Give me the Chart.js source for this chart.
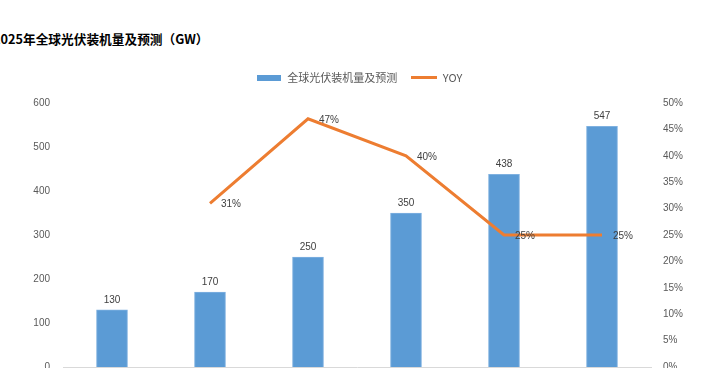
<!DOCTYPE html>
<html>
<head>
<meta charset="utf-8">
<script src="https://cdn.jsdelivr.net/npm/chart.js@4"></script>
<style>
  html, body { margin: 0; padding: 0; background: #fff; overflow: hidden; width: 706px; height: 368px; }
  #title { position: absolute; left: -7px; top: 29px; font: bold 12.7px "Noto Sans CJK SC", sans-serif; color: #000; white-space: nowrap; }
  #wrap { position: absolute; left: 0; top: 0; width: 706px; height: 400px; }
</style>
</head>
<body>
<div id="title">2025年全球光伏装机量及预测（GW）</div>
<div id="wrap"><canvas id="myChart" width="706" height="400"></canvas></div>
<script>
// 年份 (x축 라벨은 화면 아래로 잘려 있음)
const years = ['2020', '2021', '2022', '2023E', '2024E', '2025E'];
// 装机量 GW
const installed = [130, 170, 250, 350, 438, 547];
// 同比增速
const yoy = [null, 0.31, 0.47, 0.40, 0.25, 0.25];

const leftTicks = [0, 600, 100];   // min, max, step
const rightTicks = [0, 0.5, 0.05];

const BLUE = '#5B9BD5';
const ORANGE = '#ED7D31';

// 범례 아이콘
function makeIcon(w, h, color) {
  const c = document.createElement('canvas');
  c.width = w;
  c.height = h;
  const g = c.getContext('2d');
  g.fillStyle = color;
  g.fillRect(0, 0, w, h);
  return c;
}
const barIcon = makeIcon(24, 6, BLUE);
const lineIcon = makeIcon(26, 3, ORANGE);

// 범례 아래 여백 추가
const legendGap = {
  id: 'legendGap',
  afterInit(chart) {
    const lg = chart.legend;
    const fit = lg.fit.bind(lg);
    lg.fit = function () {
      fit();
      this.height += 10;
    };
  }
};

// 값 라벨 그리기
const valueLabels = {
  id: 'valueLabels',
  afterDatasetsDraw(chart) {
    const ctx = chart.ctx;
    ctx.save();
    ctx.font = '10px "Liberation Sans", sans-serif';
    ctx.fillStyle = '#404040';
    chart.getDatasetMeta(0).data.forEach((el, i) => {
      ctx.textAlign = 'center';
      ctx.textBaseline = 'bottom';
      ctx.fillText(installed[i], el.x, el.y - 5);
    });
    chart.getDatasetMeta(1).data.forEach((el, i) => {
      if (yoy[i] == null) return;
      ctx.textAlign = 'left';
      ctx.textBaseline = 'middle';
      ctx.fillText(Math.round(yoy[i] * 100) + '%', el.x + 11, el.y + 1);
    });
    ctx.restore();
  }
};

const data = {
  labels: years,
  datasets: [
    {
      type: 'bar',
      label: '全球光伏装机量及预测',
      data: installed,
      backgroundColor: BLUE,
      borderColor: '#7FB1E0',
      borderWidth: 1,
      barThickness: 31,
      yAxisID: 'y',
      order: 2,
    },
    {
      type: 'line',
      label: 'YOY',
      data: yoy,
      borderColor: ORANGE,
      backgroundColor: ORANGE,
      borderWidth: 3,
      pointRadius: 0,
      tension: 0,
      yAxisID: 'y1',
      order: 1,
    },
  ],
};

const config = {
  type: 'bar',
  data: data,
  plugins: [legendGap, valueLabels],
  options: {
    responsive: false,
    animation: false,
    layout: { padding: { top: 58, left: 12, right: 0, bottom: 0 } },
    plugins: {
      tooltip: { enabled: false },
      legend: {
        position: 'top',
        labels: {
          usePointStyle: true,
          pointStyleWidth: 26,
          padding: 14,
          color: '#595959',
          font: { size: 11, family: '"Noto Sans CJK SC", sans-serif' },
          generateLabels(chart) {
            return [
              { text: '全球光伏装机量及预测', pointStyle: barIcon, datasetIndex: 0, lineWidth: 0, fontColor: '#595959' },
              { text: 'YOY', pointStyle: lineIcon, datasetIndex: 1, lineWidth: 0, fontColor: '#595959' },
            ];
          },
        },
      },
    },
    scales: {
      x: {
        grid: { display: false },
        border: { color: '#D9D9D9' },
        ticks: { color: '#595959', font: { size: 10 } },
        afterFit(s) { s.height = 33; },
      },
      y: {
        position: 'left',
        min: leftTicks[0],
        max: leftTicks[1],
        ticks: { stepSize: leftTicks[2], color: '#595959', padding: 13, font: { size: 10, family: '"Liberation Sans", sans-serif' } },
        grid: { display: false, drawTicks: false },
        border: { display: false },
        afterFit(s) { s.width = 51; },
      },
      y1: {
        position: 'right',
        min: rightTicks[0],
        max: rightTicks[1],
        ticks: {
          stepSize: rightTicks[2],
          color: '#595959',
          padding: 12,
          font: { size: 10, family: '"Liberation Sans", sans-serif' },
          callback: v => Math.round(v * 100) + '%',
        },
        grid: { display: false, drawTicks: false },
        border: { display: false },
        afterFit(s) { s.width = 55; },
      },
    },
  },
};

const myChart = new Chart(document.getElementById('myChart'), config);
</script>
</body>
</html>
